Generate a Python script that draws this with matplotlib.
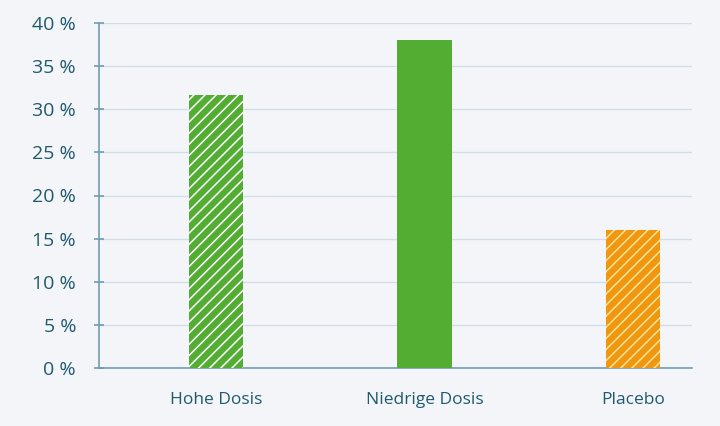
import numpy as np
import matplotlib
matplotlib.use("Agg")
import matplotlib.pyplot as plt
from matplotlib.ticker import FuncFormatter

categories = ["Hohe Dosis", "Niedrige Dosis", "Placebo"]
values = [31.7, 38.0, 16.0]
colors = ["#52ad32", "#52ad32", "#f0960f"]
hatch_colors = ["#ffffff", None, "#fce49a"]
yticks = [0, 5, 10, 15, 20, 25, 30, 35, 40]

BG = "#f4f5f8"
TXT = "#1f5a6e"
SPINE = "#6f9db2"
GRID = "#d3dde5"

fig = plt.figure(figsize=(7.2, 4.26), dpi=100, facecolor=BG)
ax = fig.add_axes([99 / 720, 1 - 368 / 426, (692 - 99) / 720, (368 - 23) / 426])
ax.set_facecolor(BG)

plt.rcParams["hatch.linewidth"] = 1.1
x = np.arange(len(categories))
for xi, v, c, hc in zip(x, values, colors, hatch_colors):
    if hc is None:
        ax.bar(xi, v, width=0.26, color=c, linewidth=0, zorder=3)
    else:
        ax.bar(xi, v, width=0.26, facecolor=c, edgecolor=hc, hatch="///",
               linewidth=0, zorder=3)

ax.set_xlim(-0.5625, 2.284)
ax.set_ylim(0, 40)
ax.set_yticks(yticks)
ax.yaxis.set_major_formatter(FuncFormatter(lambda v, _: f"{v:.0f} %"))
ax.set_xticks(x)
ax.set_xticklabels(categories)
ax.grid(axis="y", color=GRID, lw=1, zorder=0)

for s in ["top", "right"]:
    ax.spines[s].set_visible(False)
for s in ["left", "bottom"]:
    ax.spines[s].set_color(SPINE)
    ax.spines[s].set_linewidth(1.2)

ax.tick_params(axis="y", colors=SPINE, direction="inout", length=7, width=1.2,
               labelcolor=TXT, labelsize=14, pad=13)
ax.tick_params(axis="x", length=0, labelcolor=TXT, labelsize=12.5, pad=17)
for lab in ax.get_yticklabels():
    lab.set_family("Open Sans")
for lab in ax.get_xticklabels():
    lab.set_family("Open Sans")

fig.savefig("out.png", dpi=100, facecolor=BG)
